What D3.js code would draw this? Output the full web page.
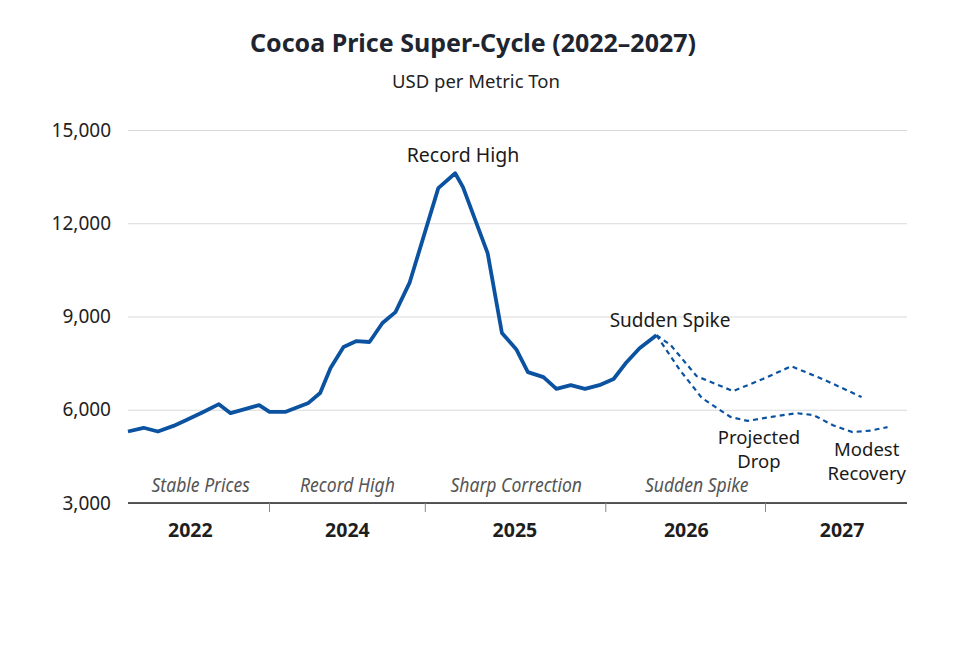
<!DOCTYPE html>
<html>
<head>
<meta charset="utf-8">
<script src="https://cdn.jsdelivr.net/npm/d3@7"></script>
<style>
  body { margin: 0; background: #fff; }
  svg { font-family: "Noto Sans", "Open Sans", sans-serif; }
</style>
</head>
<body>
<div id="chart"></div>
<script>
// months since Jan 2022 and price in USD/t
const histT = [0, 1.2, 2.3, 3.5, 4.5, 5.8, 7.0, 7.9, 10.1, 10.9, 12.1, 13.9, 14.8, 15.6, 16.6, 17.6, 18.6, 19.6, 20.6, 21.7, 23.9, 25.2, 25.8, 27.7, 28.8, 29.9, 30.8, 32.0, 33.0, 34.1, 35.2, 36.3, 37.4, 38.4, 39.4, 40.7];
const histPrice = [5300, 5420, 5300, 5480, 5670, 5930, 6180, 5890, 6150, 5930, 5930, 6220, 6540, 7340, 8020, 8210, 8180, 8790, 9140, 10100, 13130, 13610, 13160, 11040, 8470, 7950, 7210, 7050, 6670, 6790, 6670, 6790, 6990, 7530, 7980, 8400];

const upperT = [40.7, 41.8, 43.8, 46.6, 48.9, 51.1, 53.7, 56.5];
const upperPrice = [8400, 8080, 7080, 6600, 6990, 7400, 6950, 6410];

const lowerT = [40.7, 42.5, 44.2, 46.4, 47.7, 49.7, 51.5, 52.8, 54.3, 55.8, 57.2, 58.5];
const lowerPrice = [8400, 7280, 6380, 5770, 5640, 5780, 5890, 5830, 5500, 5280, 5330, 5440];

const yTicks = [3000, 6000, 9000, 12000, 15000];
const yearLabels = ["2022", "2024", "2025", "2026", "2027"];
const yearLabelT = [4.8, 16.9, 29.8, 43.0, 55.0];
const yearBreaks = [10.9, 22.9, 36.8, 49.1];
const phaseLabels = ["Stable Prices", "Record High", "Sharp Correction", "Sudden Spike"];
const phaseT = [5.6, 16.9, 29.9, 43.8];

const width = 980, height = 653;
const margin = { left: 128, right: 73, top: 130, bottom: 150 };

const svg = d3.select("#chart").append("svg")
    .attr("width", width)
    .attr("height", height);

const x = d3.scaleLinear().domain([0, 60]).range([margin.left, width - margin.right]);
const y = d3.scaleLinear().domain([3000, 15000]).range([503, margin.top]);

// title
svg.append("text")
    .attr("x", 473).attr("y", 52)
    .attr("text-anchor", "middle")
    .attr("font-size", 25).attr("font-weight", 700)
    .attr("fill", "#1e2530")
    .text("Cocoa Price Super-Cycle (2022–2027)");
svg.append("text")
    .attr("x", 476).attr("y", 88)
    .attr("text-anchor", "middle")
    .attr("font-size", 18.5)
    .attr("fill", "#222")
    .text("USD per Metric Ton");

// gridlines + y labels
const yAxis = d3.axisLeft(y).tickValues(yTicks)
    .tickSize(-(x.range()[1] - x.range()[0]))
    .tickPadding(17)
    .tickFormat(d3.format(","));
const gy = svg.append("g").attr("transform", `translate(${margin.left},0)`).call(yAxis);
gy.select(".domain").remove();
gy.selectAll(".tick line").attr("stroke", "#d9d9d9").attr("stroke-width", 1.2);
gy.selectAll(".tick text").attr("font-size", 19).attr("fill", "#222")
    .attr("font-family", "'Noto Sans', sans-serif");

// bottom axis line and dividers
svg.append("line")
    .attr("x1", x(0)).attr("x2", x(60))
    .attr("y1", y(3000)).attr("y2", y(3000))
    .attr("stroke", "#222").attr("stroke-width", 1.6);
svg.selectAll(".divider").data(yearBreaks).enter().append("line")
    .attr("x1", d => x(d)).attr("x2", d => x(d))
    .attr("y1", y(3000)).attr("y2", y(3000) + 9)
    .attr("stroke", "#888").attr("stroke-width", 1);

svg.selectAll(".year").data(yearLabels).enter().append("text")
    .attr("x", (d, i) => x(yearLabelT[i]))
    .attr("y", 537)
    .attr("text-anchor", "middle")
    .attr("font-size", 19.5).attr("font-weight", 700)
    .attr("fill", "#1e1e1e")
    .text(d => d);

svg.selectAll(".phase").data(phaseLabels).enter().append("text")
    .attr("x", (d, i) => x(phaseT[i]))
    .attr("y", 492)
    .attr("text-anchor", "middle")
    .attr("font-size", 19.5).attr("font-style", "italic")
    .attr("fill", "#555")
    .text(d => d)
    .each(function () {
        const w = this.getComputedTextLength();
        d3.select(this).attr("textLength", w * 0.9).attr("lengthAdjust", "spacingAndGlyphs");
    });

// lines
const line = d3.line().x(d => x(d[0])).y(d => y(d[1]));
const color = "#0b52a0";

svg.append("path")
    .datum(d3.zip(upperT, upperPrice))
    .attr("d", line).attr("fill", "none")
    .attr("stroke", color).attr("stroke-width", 2.2)
    .attr("stroke-dasharray", "5,4");
svg.append("path")
    .datum(d3.zip(lowerT, lowerPrice))
    .attr("d", line).attr("fill", "none")
    .attr("stroke", color).attr("stroke-width", 2.2)
    .attr("stroke-dasharray", "5,4");
svg.append("path")
    .datum(d3.zip(histT, histPrice))
    .attr("d", line).attr("fill", "none")
    .attr("stroke", color).attr("stroke-width", 3.8)
    .attr("stroke-linejoin", "round");

// annotations, one text per line
function note(lines, cx, cy, size, gap) {
    lines.forEach((s, i) => {
        svg.append("text")
            .attr("x", cx).attr("y", cy + i * gap)
            .attr("text-anchor", "middle")
            .attr("font-size", size).attr("fill", "#1a1a1a")
            .text(s);
    });
}
note(["Record High"], x(25.8), 162, 19.5, 24);
note(["Sudden Spike"], x(41.75), 327, 19, 24);
note(["Projected", "Drop"], x(48.6), 444, 18.5, 24);
note(["Modest", "Recovery"], x(56.9), 456, 18.5, 24);
</script>
</body>
</html>
